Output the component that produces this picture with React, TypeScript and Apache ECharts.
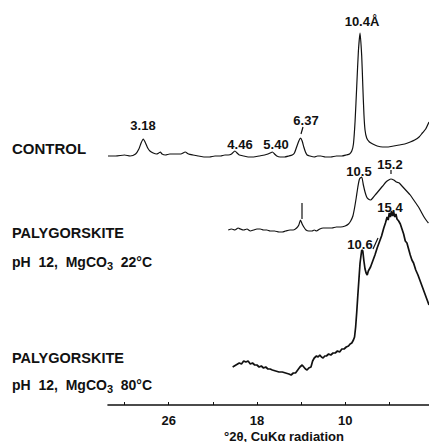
import React, { useEffect, useRef } from "react";
import * as echarts from "echarts";

// 2θ (degrees, CuKα) vs relative intensity (arbitrary units above each trace's baseline)
const controlData: [number, number][] = [
  [31.5, 0], [30.8, 0], [30.0, 1], [29.5, 0], [29.0, 2], [28.7, 7], [28.5, 13], [28.3, 17], [28.1, 13],
  [27.9, 8], [27.7, 5], [27.4, 3], [27.1, 2], [26.9, 3], [26.75, 4], [26.6, 2], [26.3, 1], [25.9, 2],
  [25.4, 2], [24.9, 2], [24.5, 4], [24.2, 2], [23.8, 1], [23.3, 0], [22.8, -1], [22.3, -1], [21.8, 0],
  [21.3, 0], [20.9, 1], [20.6, 1], [20.3, 2], [20.0, 5], [19.8, 3], [19.6, 1], [19.2, 0], [18.8, -1],
  [18.3, -1], [17.8, 0], [17.3, 1], [17.0, 2], [16.8, 3], [16.6, 4], [16.4, 2], [16.2, 0], [15.9, -1],
  [15.5, -1], [15.1, 0], [14.8, 1], [14.6, 3], [14.4, 9], [14.2, 15], [14.05, 18], [13.9, 15], [13.75, 9],
  [13.6, 4], [13.45, 1], [13.2, 0], [12.8, -1], [12.5, 0], [12.2, 0], [11.8, -1], [11.3, -1], [10.8, 0],
  [10.3, 0], [9.9, 1], [9.6, 2], [9.4, 5], [9.25, 12], [9.1, 35], [8.95, 70], [8.8, 105], [8.65, 123],
  [8.5, 100], [8.4, 70], [8.3, 42], [8.2, 26], [8.05, 18], [7.8, 14], [7.5, 12], [7.1, 10], [6.6, 9],
  [6.1, 9], [5.6, 10], [5.1, 11], [4.6, 12], [4.1, 14], [3.7, 16], [3.3, 19], [3.0, 23], [2.7, 27], [2.4, 34],
];

const paly22Data: [number, number][] = [
  [20.6, 0], [20.3, 1], [20.0, 0], [19.7, 2], [19.5, 1], [19.2, 0], [18.9, 1], [18.6, -1], [18.3, 0],
  [18.0, 1], [17.7, 1], [17.4, 0], [17.1, 0], [16.8, -1], [16.4, -1], [16.0, -2], [15.7, -2], [15.4, -1],
  [15.0, 0], [14.7, 0], [14.4, 2], [14.2, 5], [14.05, 10], [13.9, 6], [13.75, 3], [13.55, 0], [13.3, -1],
  [13.0, -1], [12.8, 0], [12.6, -1], [12.3, 1], [12.0, 2], [11.6, 2], [11.2, 2], [10.8, 3], [10.4, 3],
  [10.0, 4], [9.7, 6], [9.5, 9], [9.3, 14], [9.15, 22], [9.0, 32], [8.85, 43], [8.7, 51], [8.5, 53],
  [8.35, 45], [8.2, 38], [8.05, 33], [7.9, 31], [7.7, 30], [7.5, 32], [7.2, 36], [6.9, 40], [6.6, 44],
  [6.3, 48], [6.05, 50], [5.85, 51], [5.6, 50], [5.35, 48], [5.1, 47], [4.85, 44], [4.6, 41], [4.35, 38],
  [4.1, 35], [3.85, 31], [3.6, 27], [3.35, 23], [3.1, 18], [2.85, 13], [2.6, 9], [2.45, 7],
];

const paly80Data: [number, number][] = [
  [20.2, 0], [19.9, 2], [19.6, 4], [19.4, 3], [19.2, 6], [19.0, 5], [18.8, 6], [18.6, 3], [18.4, 4],
  [18.2, 2], [18.0, 2], [17.8, 0], [17.6, 1], [17.4, -1], [17.2, 0], [17.0, -2], [16.8, -2], [16.6, -3],
  [16.3, -4], [16.0, -5], [15.7, -5], [15.4, -6], [15.1, -7], [14.9, -8], [14.7, -6], [14.5, -6],
  [14.3, -3], [14.1, 0], [13.9, 2], [13.75, 0], [13.6, -2], [13.45, -3], [13.3, -1], [13.1, 0], [12.95, 6],
  [12.8, 9], [12.6, 11], [12.45, 10], [12.3, 12], [12.15, 10], [12.0, 9], [11.85, 11], [11.7, 11],
  [11.5, 13], [11.3, 12], [11.1, 14], [10.9, 14], [10.7, 16], [10.5, 15], [10.3, 18], [10.1, 18],
  [9.9, 20], [9.7, 21], [9.55, 23], [9.4, 24], [9.25, 27], [9.15, 30], [9.05, 40], [8.95, 55], [8.85, 72],
  [8.75, 88], [8.65, 104], [8.5, 117], [8.4, 116], [8.3, 106], [8.2, 98], [8.1, 94], [8.0, 92], [7.9, 96],
  [7.7, 100], [7.5, 106], [7.3, 112], [7.1, 119], [6.9, 125], [6.7, 131], [6.5, 139], [6.35, 144],
  [6.2, 150], [6.1, 147], [6.0, 154], [5.9, 150], [5.8, 156], [5.7, 151], [5.6, 155], [5.5, 150],
  [5.4, 153], [5.3, 148], [5.15, 146], [5.0, 143], [4.85, 138], [4.7, 133], [4.55, 126], [4.4, 124],
  [4.25, 118], [4.1, 112], [3.95, 107], [3.8, 104], [3.6, 97], [3.4, 92], [3.2, 86], [3.0, 80],
  [2.8, 74], [2.6, 68], [2.4, 62],
];

const tickValues = [30, 26, 22, 18, 14, 10, 6];
const labelValues = [26, 18, 10];

const FONT = "'Liberation Sans', Arial, Helvetica, sans-serif";
const INK = "#111";

export default function App() {
  const ref = useRef<HTMLDivElement>(null);
  useEffect(() => {
    if (!ref.current) return;
    const chart = echarts.init(ref.current, null, { renderer: "svg" });
    const shift = (d: [number, number][], off: number) => d.map(([x, y]) => [x, y + off]);
    const lineSeries = (name: string, d: [number, number][], off: number, w: number, smooth: number | boolean) => ({
      name,
      type: "line",
      data: shift(d, off),
      showSymbol: false,
      smooth,
      lineStyle: { color: INK, width: w },
      silent: true,
    });
    const txt = (text: string, x: number, y: number, align = "center", size = 13, extra: any = {}) => ({
      type: "text",
      x,
      y,
      style: {
        text,
        fill: INK,
        font: `bold ${size}px ${FONT}`,
        align,
        verticalAlign: "middle",
        ...extra,
      },
    });
    const ln = (x1: number, y1: number, x2: number, y2: number) => ({
      type: "line",
      shape: { x1, y1, x2, y2 },
      style: { stroke: INK, lineWidth: 1.2 },
    });
    const subRich = {
      s: { fontSize: 11, fontWeight: "bold", fontFamily: FONT, fill: INK, padding: [8, 0, 0, 0] },
    };
    const phText = (text: string, y: number) => ({
      type: "text",
      x: 12,
      y,
      style: {
        text,
        rich: subRich,
        fill: INK,
        font: `bold 14px ${FONT}`,
        align: "left",
        verticalAlign: "middle",
      },
    });
    chart.setOption({
      animation: false,
      backgroundColor: "#fff",
      grid: { left: 108, top: 0, width: 321, height: 405 },
      xAxis: {
        type: "value",
        inverse: true,
        min: 2.4,
        max: 31.5,
        axisLine: { show: true, lineStyle: { color: INK, width: 1.6 } },
        axisTick: { show: true, inside: true, length: 3, customValues: tickValues, lineStyle: { color: INK } },
        axisLabel: {
          customValues: labelValues,
          color: INK,
          fontWeight: "bold",
          fontSize: 13,
          fontFamily: FONT,
          margin: 9,
        },
        splitLine: { show: false },
      },
      yAxis: { type: "value", min: 0, max: 405, show: false },
      series: [
        lineSeries("CONTROL", controlData, 249, 1.2, 0.2),
        lineSeries("PALYGORSKITE 22", paly22Data, 175, 1.2, 0.2),
        lineSeries("PALYGORSKITE 80", paly80Data, 38, 1.7, false),
      ],
      graphic: [
        txt("10.4Å", 362, 21),
        txt("3.18", 143, 125),
        txt("4.46", 240, 144),
        txt("5.40", 276, 144),
        txt("6.37", 306, 120),
        ln(303, 127, 301, 134),
        txt("10.5", 359, 171),
        txt("15.2", 390, 164),
        ln(391, 170, 391, 174),
        ln(302, 203, 302, 219),
        txt("15.4", 390, 207),
        txt("10.6", 360, 244),
        ln(373, 249, 378, 238),
        txt("CONTROL", 12, 148, "left", 15),
        txt("PALYGORSKITE", 12, 233, "left", 14.5),
        phText("pH  12,  MgCO{s|3}  22°C", 262),
        txt("PALYGORSKITE", 12, 358, "left", 14.5),
        phText("pH  12,  MgCO{s|3}  80°C", 385),
        txt("°2θ, CuKα radiation", 284, 436, "center", 13),
      ],
    });
    return () => chart.dispose();
  }, []);
  return (
    <div
      ref={ref}
      style={{ position: "absolute", left: 0, top: 0, width: 429, height: 442, background: "#fff" }}
    />
  );
}
